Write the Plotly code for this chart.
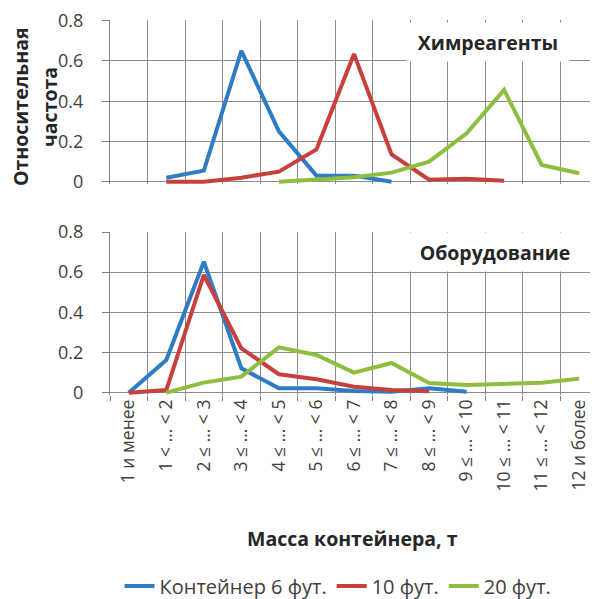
import plotly.graph_objects as go

categories = ["1 и менее", "1 < … < 2", "2 ≤ … < 3", "3 ≤ … < 4", "4 ≤ … < 5",
              "5 ≤ … < 6", "6 ≤ … < 7", "7 ≤ … < 8", "8 ≤ … < 9", "9 ≤ … < 10",
              "10 ≤ … < 11", "11 ≤ … < 12", "12 и более"]

series_names = ["Контейнер 6 фут.", "10 фут.", "20 фут."]
colors = ["#2E7CC4", "#C8403E", "#8DBE3E"]

# Химреагенты
chem_6 = [None, 0.02, 0.055, 0.65, 0.25, 0.03, 0.03, 0.0, None, None, None, None, None]
chem_10 = [None, 0.0, 0.0, 0.02, 0.05, 0.16, 0.635, 0.135, 0.01, 0.015, 0.005, None, None]
chem_20 = [None, None, None, None, 0.0, 0.012, 0.022, 0.045, 0.1, 0.24, 0.456, 0.083, 0.042]

# Оборудование
equip_6 = [0.0, 0.163, 0.652, 0.121, 0.022, 0.022, 0.008, 0.005, 0.022, 0.005, None, None, None]
equip_10 = [0.0, 0.013, 0.586, 0.221, 0.092, 0.067, 0.03, 0.013, 0.007, None, None, None, None]
equip_20 = [None, 0.0, 0.05, 0.08, 0.226, 0.188, 0.1, 0.148, 0.048, 0.038, 0.046, 0.05, 0.07]

y_ticks = [0, 0.2, 0.4, 0.6, 0.8]
y_ticktext = ["0", "0.2", "0.4", "0.6", "0.8"]

FONT = "Open Sans"
TXT = "#262626"
GRID = "#8C8C8C"
BOLD = 19.5

fig = go.Figure()
for vals, name, col in zip([chem_6, chem_10, chem_20], series_names, colors):
    fig.add_trace(go.Scatter(x=categories, y=vals, mode="lines", name=name,
                             line=dict(color=col, width=4), xaxis="x", yaxis="y",
                             showlegend=True, connectgaps=False))
for vals, name, col in zip([equip_6, equip_10, equip_20], series_names, colors):
    fig.add_trace(go.Scatter(x=categories, y=vals, mode="lines", name=name,
                             line=dict(color=col, width=4), xaxis="x2", yaxis="y2",
                             showlegend=False, connectgaps=False))

# page body has an 8px margin; figure coordinates = reference coordinates - 8
OFF = 8.0
W = 590.0
H = 591.0


def px(v):
    return (v - OFF) / W


def py(v):
    return 1 - (v - OFF) / H


xdom = [px(110), 1.0]
top_dom = [py(184.1), py(20.3)]
bot_dom = [py(395.1), py(231.6)]

xcommon = dict(type="category", categoryorder="array", categoryarray=categories,
               range=[-0.5, 12.5], tickson="boundaries", showgrid=True,
               gridcolor=GRID, gridwidth=1.3, showline=False, zeroline=False,
               domain=xdom, fixedrange=True)
ycommon = dict(range=[-0.012, 0.802], tickvals=y_ticks, ticktext=y_ticktext,
               showgrid=True, gridcolor=GRID, gridwidth=1.3, zeroline=False,
               showline=True, linecolor="#7F7F7F", linewidth=1.3,
               ticks="outside", ticklen=7, tickcolor="#7F7F7F", tickwidth=1.3,
               tickfont=dict(family=FONT, size=18, color="#404040"),
               ticklabelstandoff=15, fixedrange=True)

fig.update_layout(
    width=int(W), height=int(H),
    margin=dict(l=0, r=0, t=0, b=0, autoexpand=False),
    paper_bgcolor="white", plot_bgcolor="white",
    font=dict(family=FONT, color=TXT),
    xaxis=dict(xcommon, anchor="y", showticklabels=False, ticks=""),
    yaxis=dict(ycommon, domain=top_dom, anchor="x"),
    xaxis2=dict(xcommon, anchor="y2", showticklabels=True, ticks="outside",
                ticklen=5, tickcolor="#7F7F7F", tickwidth=1.3, tickangle=-90,
                tickfont=dict(family=FONT, size=17.5, color="#404040")),
    yaxis2=dict(ycommon, domain=bot_dom, anchor="x2"),
    legend=dict(orientation="h", x=px(338), xanchor="center", y=py(586),
                yanchor="middle", font=dict(family=FONT, size=20, color="#404040"),
                itemwidth=30, tracegroupgap=0, bgcolor="rgba(0,0,0,0)"),
    showlegend=True,
)

annotations = [
    dict(text="<b>Химреагенты</b>", x=px(488), y=py(42), xref="paper", yref="paper",
         showarrow=False, font=dict(family=FONT, size=BOLD, color=TXT),
         bgcolor="white", width=160, height=36, xanchor="center", yanchor="middle"),
    dict(text="<b>Оборудование</b>", x=px(495), y=py(252), xref="paper", yref="paper",
         showarrow=False, font=dict(family=FONT, size=BOLD, color=TXT),
         bgcolor="white", width=172, height=36, xanchor="center", yanchor="middle"),
    dict(text="<b>Относительная</b>", x=px(21), y=py(107), xref="paper", yref="paper",
         showarrow=False, textangle=-90, font=dict(family=FONT, size=BOLD, color=TXT),
         xanchor="center", yanchor="middle"),
    dict(text="<b>частота</b>", x=px(50), y=py(107), xref="paper", yref="paper",
         showarrow=False, textangle=-90, font=dict(family=FONT, size=BOLD, color=TXT),
         xanchor="center", yanchor="middle"),
    dict(text="<b>Масса контейнера, т</b>", x=px(352), y=py(538), xref="paper", yref="paper",
         showarrow=False, font=dict(family=FONT, size=BOLD, color=TXT),
         xanchor="center", yanchor="middle"),
]
fig.update_layout(annotations=annotations)

fig.write_html("out.html")
